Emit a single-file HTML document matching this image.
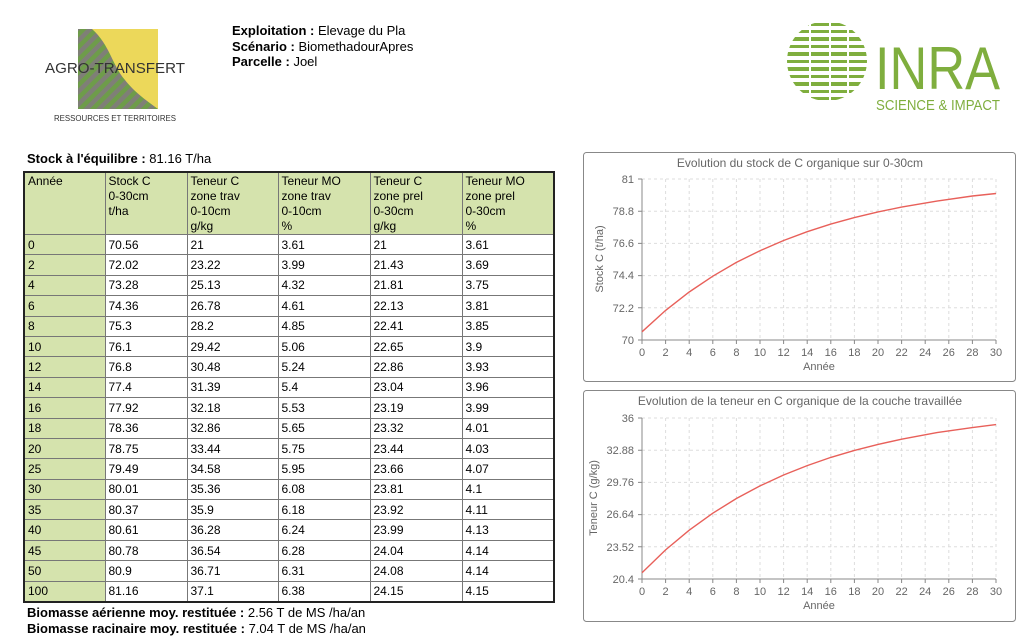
<!DOCTYPE html>
<html><head><meta charset="utf-8"><style>
body{margin:0;width:1024px;height:641px;background:#fff;position:relative;font-family:"Liberation Sans",Arial,sans-serif;overflow:hidden}
.a{position:absolute;white-space:nowrap}
table{position:absolute;left:23px;top:171px;border-collapse:collapse;font-size:12px;border:2px solid #222}
td{border:1px solid #777;padding:0 3px;height:19.4px;vertical-align:middle;line-height:14px}
tr.h td{vertical-align:top;background:#d5e3ad;height:56px;line-height:15px;padding-top:1px}
td.y{background:#d5e3ad}
</style></head><body>
<svg class="a" style="left:40px;top:25px" width="160" height="105">
<defs><pattern id="st" width="9" height="9" patternUnits="userSpaceOnUse" patternTransform="rotate(45)"><rect width="9" height="9" fill="#6e9c4a"/><rect width="4.5" height="9" fill="#7f7f77"/></pattern></defs>
<rect x="38" y="4" width="80" height="80" fill="#ecd85a"/>
<path d="M38 4 H52 C70 20 72 40 85 55 C95 68 110 78 118 84 H38 Z" fill="url(#st)"/>
<text x="5" y="48" font-size="15" fill="#333" textLength="140" lengthAdjust="spacingAndGlyphs">AGRO-TRANSFERT</text>
<text x="14" y="96" font-size="8" fill="#333" textLength="122" lengthAdjust="spacingAndGlyphs">RESSOURCES ET TERRITOIRES</text>
</svg>
<div class="a" style="left:232px;top:23px;font-size:13px;line-height:15.5px"><b>Exploitation :</b> Elevage du Pla<br><b>Scénario :</b> BiomethadourApres<br><b>Parcelle :</b> Joel</div>
<svg class="a" style="left:780px;top:15px" width="244" height="105">
<defs><clipPath id="c"><circle cx="47" cy="46" r="40"/></clipPath></defs>
<g clip-path="url(#c)" fill="#7fae3e">
<rect x="0" y="8" width="100" height="3"/><rect x="0" y="15" width="100" height="3"/><rect x="0" y="22" width="100" height="4"/><rect x="0" y="30" width="100" height="3"/><rect x="0" y="37" width="100" height="4"/><rect x="0" y="45" width="100" height="3"/><rect x="0" y="52" width="100" height="4"/><rect x="0" y="60" width="100" height="3"/><rect x="0" y="67" width="100" height="4"/><rect x="0" y="75" width="100" height="3"/><rect x="0" y="82" width="100" height="3"/>
</g>
<g stroke="#fff" stroke-width="2"><line x1="30" y1="0" x2="30" y2="90"/><line x1="50" y1="0" x2="50" y2="90"/><line x1="68" y1="0" x2="68" y2="90"/></g>
<text x="95" y="74" font-size="60" fill="#7fae3e" textLength="125" lengthAdjust="spacingAndGlyphs">INRA</text>
<text x="96" y="95" font-size="15" fill="#7fae3e" textLength="124" lengthAdjust="spacingAndGlyphs">SCIENCE &amp; IMPACT</text>
</svg>
<div class="a" style="left:27px;top:151px;font-size:13px"><b>Stock à l'équilibre :</b> 81.16 T/ha</div>
<table>
<colgroup><col style="width:81px"><col style="width:82px"><col style="width:91px"><col style="width:92px"><col style="width:92px"><col style="width:92px"></colgroup>
<tr class="h"><td>Année</td><td>Stock C<br>0-30cm<br>t/ha</td><td>Teneur C<br>zone trav<br>0-10cm<br>g/kg</td><td>Teneur MO<br>zone trav<br>0-10cm<br>%</td><td>Teneur C<br>zone prel<br>0-30cm<br>g/kg</td><td>Teneur MO<br>zone prel<br>0-30cm<br>%</td></tr>
<tr><td class="y">0</td><td>70.56</td><td>21</td><td>3.61</td><td>21</td><td>3.61</td></tr>
<tr><td class="y">2</td><td>72.02</td><td>23.22</td><td>3.99</td><td>21.43</td><td>3.69</td></tr>
<tr><td class="y">4</td><td>73.28</td><td>25.13</td><td>4.32</td><td>21.81</td><td>3.75</td></tr>
<tr><td class="y">6</td><td>74.36</td><td>26.78</td><td>4.61</td><td>22.13</td><td>3.81</td></tr>
<tr><td class="y">8</td><td>75.3</td><td>28.2</td><td>4.85</td><td>22.41</td><td>3.85</td></tr>
<tr><td class="y">10</td><td>76.1</td><td>29.42</td><td>5.06</td><td>22.65</td><td>3.9</td></tr>
<tr><td class="y">12</td><td>76.8</td><td>30.48</td><td>5.24</td><td>22.86</td><td>3.93</td></tr>
<tr><td class="y">14</td><td>77.4</td><td>31.39</td><td>5.4</td><td>23.04</td><td>3.96</td></tr>
<tr><td class="y">16</td><td>77.92</td><td>32.18</td><td>5.53</td><td>23.19</td><td>3.99</td></tr>
<tr><td class="y">18</td><td>78.36</td><td>32.86</td><td>5.65</td><td>23.32</td><td>4.01</td></tr>
<tr><td class="y">20</td><td>78.75</td><td>33.44</td><td>5.75</td><td>23.44</td><td>4.03</td></tr>
<tr><td class="y">25</td><td>79.49</td><td>34.58</td><td>5.95</td><td>23.66</td><td>4.07</td></tr>
<tr><td class="y">30</td><td>80.01</td><td>35.36</td><td>6.08</td><td>23.81</td><td>4.1</td></tr>
<tr><td class="y">35</td><td>80.37</td><td>35.9</td><td>6.18</td><td>23.92</td><td>4.11</td></tr>
<tr><td class="y">40</td><td>80.61</td><td>36.28</td><td>6.24</td><td>23.99</td><td>4.13</td></tr>
<tr><td class="y">45</td><td>80.78</td><td>36.54</td><td>6.28</td><td>24.04</td><td>4.14</td></tr>
<tr><td class="y">50</td><td>80.9</td><td>36.71</td><td>6.31</td><td>24.08</td><td>4.14</td></tr>
<tr><td class="y">100</td><td>81.16</td><td>37.1</td><td>6.38</td><td>24.15</td><td>4.15</td></tr>
</table>
<div class="a" style="left:27px;top:605px;font-size:13px;line-height:16px"><b>Biomasse aérienne moy. restituée :</b> 2.56 T de MS /ha/an<br><b>Biomasse racinaire moy. restituée :</b> 7.04 T de MS /ha/an</div>

<svg class="a" style="left:0;top:0" width="1024" height="641" font-family="Liberation Sans,sans-serif">
<g fill="none">
<rect x="583.5" y="152.5" width="432" height="229" rx="3" stroke="#888"/>
<rect x="583.5" y="390.5" width="432" height="231" rx="3" stroke="#888"/>
</g>
<g stroke="#ddd" stroke-dasharray="3,3">
<path d="M665.6 179V340M689.2 179V340M712.8 179V340M736.4 179V340M760 179V340M783.6 179V340M807.2 179V340M830.8 179V340M854.4 179V340M878 179V340M901.6 179V340M925.2 179V340M948.8 179V340M972.4 179V340M996 179V340"/>
<path d="M642 179H996M642 211.2H996M642 243.4H996M642 275.6H996M642 307.8H996"/>
<path d="M665.6 418V579M689.2 418V579M712.8 418V579M736.4 418V579M760 418V579M783.6 418V579M807.2 418V579M830.8 418V579M854.4 418V579M878 418V579M901.6 418V579M925.2 418V579M948.8 418V579M972.4 418V579M996 418V579"/>
<path d="M642 418H996M642 450.2H996M642 482.4H996M642 514.6H996M642 546.8H996"/>
</g>
<g stroke="#888" fill="none">
<path d="M642 179V340H996"/><path d="M642 418V579H996"/>
<path d="M638 179H642M638 211.2H642M638 243.4H642M638 275.6H642M638 307.8H642M638 340H642"/>
<path d="M638 418H642M638 450.2H642M638 482.4H642M638 514.6H642M638 546.8H642M638 579H642"/>
<path d="M642 340v4M665.6 340v4M689.2 340v4M712.8 340v4M736.4 340v4M760 340v4M783.6 340v4M807.2 340v4M830.8 340v4M854.4 340v4M878 340v4M901.6 340v4M925.2 340v4M948.8 340v4M972.4 340v4M996 340v4"/>
<path d="M642 579v4M665.6 579v4M689.2 579v4M712.8 579v4M736.4 579v4M760 579v4M783.6 579v4M807.2 579v4M830.8 579v4M854.4 579v4M878 579v4M901.6 579v4M925.2 579v4M948.8 579v4M972.4 579v4M996 579v4"/>
</g>
<polyline fill="none" stroke="#e8605a" stroke-width="1.4" points="642,331.8 665.6,310.4 689.2,292 712.8,276.2 736.4,262.4 760,250.7 783.6,240.5 807.2,231.7 830.8,224.1 854.4,217.6 878,211.9 901.6,207.1 937,201.1 972.4,196 996,193.5"/>
<polyline fill="none" stroke="#e8605a" stroke-width="1.4" points="642,572.8 665.6,549.9 689.2,530.2 712.8,513.2 736.4,498.5 760,485.9 783.6,475 807.2,465.6 830.8,457.4 854.4,450.4 878,444.4 901.6,439.2 937,432.6 972.4,427.6 996,424.6"/>
<g font-size="11" fill="#666">
<text x="800" y="167" text-anchor="middle" font-size="12">Evolution du stock de C organique sur 0-30cm</text>
<text x="800" y="405" text-anchor="middle" font-size="12">Evolution de la teneur en C organique de la couche travaillée</text>
<g text-anchor="end"><text x="634" y="183">81</text><text x="634" y="215">78.8</text><text x="634" y="247">76.6</text><text x="634" y="279">74.4</text><text x="634" y="312">72.2</text><text x="634" y="344">70</text>
<text x="634" y="422">36</text><text x="634" y="454">32.88</text><text x="634" y="486">29.76</text><text x="634" y="518">26.64</text><text x="634" y="551">23.52</text><text x="634" y="583">20.4</text></g>
<g text-anchor="middle">
<g transform="translate(0,356)"><text x="642">0</text><text x="665.6">2</text><text x="689.2">4</text><text x="712.8">6</text><text x="736.4">8</text><text x="760">10</text><text x="783.6">12</text><text x="807.2">14</text><text x="830.8">16</text><text x="854.4">18</text><text x="878">20</text><text x="901.6">22</text><text x="925.2">24</text><text x="948.8">26</text><text x="972.4">28</text><text x="996">30</text></g>
<g transform="translate(0,595)"><text x="642">0</text><text x="665.6">2</text><text x="689.2">4</text><text x="712.8">6</text><text x="736.4">8</text><text x="760">10</text><text x="783.6">12</text><text x="807.2">14</text><text x="830.8">16</text><text x="854.4">18</text><text x="878">20</text><text x="901.6">22</text><text x="925.2">24</text><text x="948.8">26</text><text x="972.4">28</text><text x="996">30</text></g>
<text x="819" y="370">Année</text><text x="819" y="609">Année</text>
<text transform="translate(603,259) rotate(-90)">Stock C (t/ha)</text>
<text transform="translate(597,498) rotate(-90)">Teneur C (g/kg)</text>
</g></g>
</svg>
</body></html>
